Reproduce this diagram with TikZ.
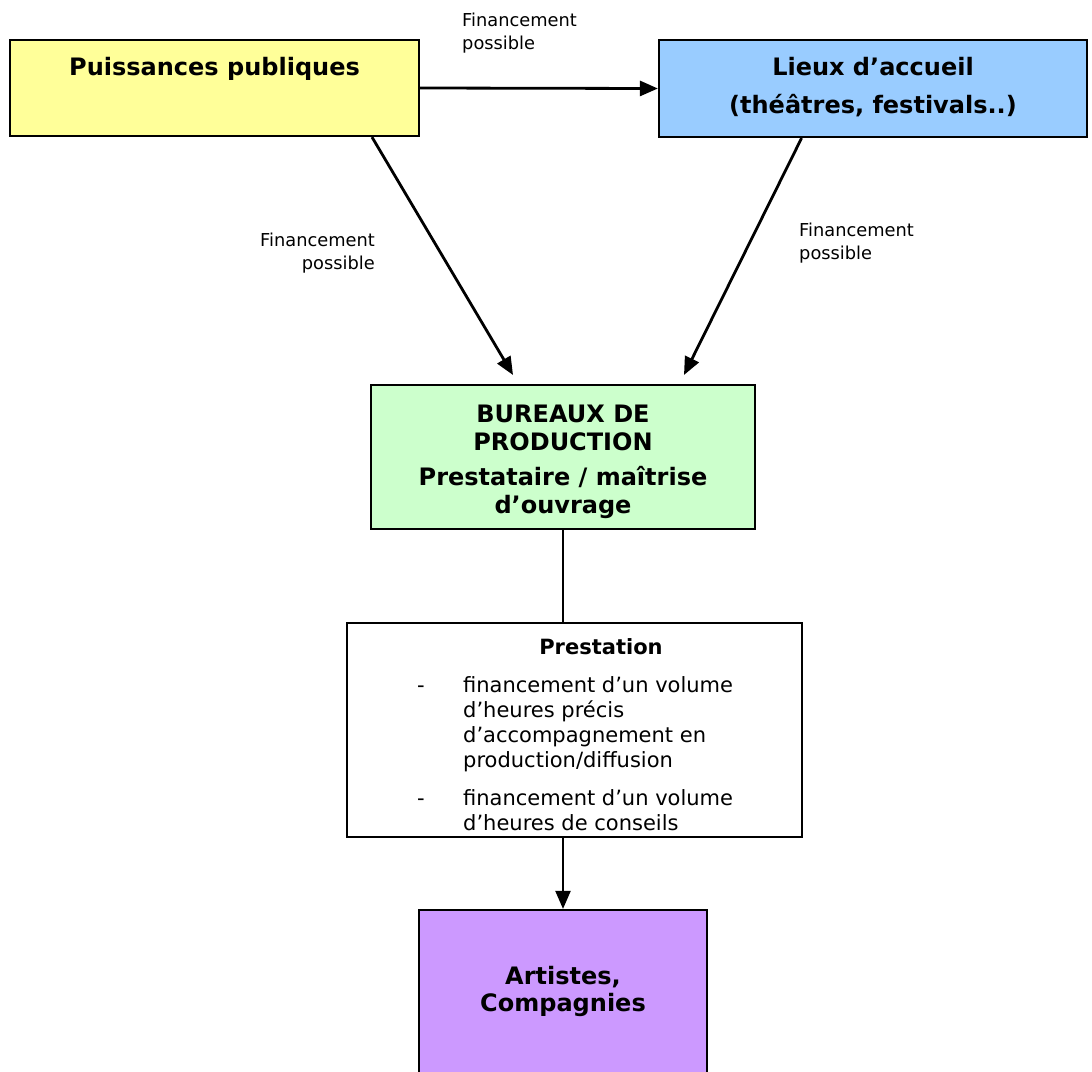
\documentclass[tikz,border=0pt]{standalone}
\usepackage{fontspec}
\setmainfont{DejaVu Sans}
\usetikzlibrary{arrows.meta,calc}
\definecolor{pubyellow}{HTML}{FFFF99}
\definecolor{lieublue}{HTML}{99CCFF}
\definecolor{bureaugreen}{HTML}{CCFFCC}
\definecolor{artpurple}{HTML}{CC99FF}
\begin{document}
\begin{tikzpicture}[x=1pt,y=-1pt,
  box/.style={draw=black, line width=2.2pt, inner sep=0pt},
  conn/.style={line width=2.8pt, -{Triangle[length=18pt,width=15pt]}},
  finlabel/.style={font=\fontsize{17.8}{23}\selectfont, inner sep=0pt},
  titletext/.style={font=\bfseries\fontsize{24}{29}\selectfont, align=center, inner sep=0pt},
  bodytext/.style={font=\fontsize{21}{25}\selectfont, inner sep=0pt}]

\useasboundingbox (0,0) rectangle (1092,1071);

% boxes
\node[box, fill=pubyellow, minimum width=409pt, minimum height=96pt] (pp) at (214.5,88) {};
\node[titletext, anchor=base] (ppt) at (214.5,75) {Puissances publiques};

\node[box, fill=lieublue, minimum width=428pt, minimum height=97pt] (la) at (873,88.5) {};
\node[titletext, anchor=base] (lat) at (873,113) {Lieux d’accueil\\[9pt](théâtres, festivals..)};

\node[box, fill=bureaugreen, minimum width=384pt, minimum height=144pt] (bp) at (563,457) {};
\node[titletext, font=\bfseries\fontsize{24}{28}\selectfont, anchor=base] (bpt) at (563,513)
  {BUREAUX DE\\PRODUCTION\\[7pt]Prestataire / maîtrise\\d’ouvrage};

\node[box, fill=white, minimum width=455pt, minimum height=214pt] (pr) at (574.5,730) {};
\node[font=\bfseries\fontsize{21}{25}\selectfont, anchor=base, inner sep=0pt] (prt) at (601,654) {Prestation};
\node[bodytext, anchor=base west] (prl) at (417,692)
  {\begin{tabular}[t]{@{}p{46pt}@{}l@{}}
   - & financement d’un volume\\
     & d’heures précis\\
     & d’accompagnement en\\
     & production/diffusion\\[13pt]
   - & financement d’un volume\\
     & d’heures de conseils
   \end{tabular}};

\node[box, fill=artpurple, minimum width=288pt, minimum height=190pt] (art) at (563,1005) {};
\node[titletext, font=\bfseries\fontsize{24}{27}\selectfont, anchor=base] (artt) at (563,1011) {Artistes,\\Compagnies};

% labels
\node[finlabel, anchor=base west, align=left] (f1) at (462,49) {Financement\\possible};
\node[finlabel, anchor=base east, align=right] (f2) at (375,269) {Financement\\possible};
\node[finlabel, anchor=base west, align=left] (f3) at (799,259) {Financement\\possible};

% connectors
\coordinate (t1) at (513,375);
\coordinate (t2) at (684,375);
\draw[conn] (pp.east) -- (la.west);
\draw[conn] ($(pp.south west)!0.883!(pp.south east)$) -- (t1);
\draw[conn] ($(la.south west)!0.334!(la.south east)$) -- (t2);
\draw[line width=1.6pt] (bp.south) -- (bp.south |- pr.north);
\draw[conn, line width=2.2pt] (pr.south -| art.north) -- (art.north);
\end{tikzpicture}
\end{document}
